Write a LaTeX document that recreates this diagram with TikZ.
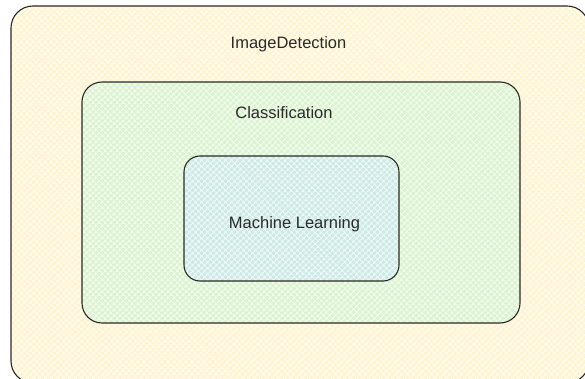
\documentclass[tikz,border=0pt]{standalone}
\usepackage{fontspec}
\setmainfont{Liberation Sans}
\usetikzlibrary{patterns.meta}

\definecolor{ink}{HTML}{2A2A2A}
\definecolor{yelfill}{HTML}{FFF4CF}
\definecolor{grnfill}{HTML}{DBF3CF}
\definecolor{bluefill}{HTML}{CCEBE4}

\tikzset{
  box/.style={draw=ink, line width=1.1pt, rounded corners=#1, inner sep=0pt},
  hatched/.style={preaction={fill=#1},
    pattern={Hatch[angle=45,distance=4pt,line width=1pt]},
    pattern color=white!80!#1},
  caption/.style={text=ink, font=\fontsize{16.5}{18}\selectfont, anchor=base, inner sep=0pt}
}

\begin{document}
\begin{tikzpicture}[x=1pt, y=-1pt]
  \useasboundingbox (0,0) rectangle (585,379);
  \clip (0,0) rectangle (585,379);
  \fill[white] (0,0) rectangle (585,379);

  % nested areas
  \node[box=22pt, hatched=yelfill, minimum width=578pt, minimum height=377pt] (detection) at (300,194.5) {};
  \node[box=20pt, hatched=grnfill, minimum width=438pt, minimum height=241pt] (classification) at (301,202.5) {};
  \node[box=16pt, hatched=bluefill, minimum width=215pt, minimum height=125pt] (ml) at (291.5,218.5) {};

  % captions
  \node[caption] (detectionlabel) at (288.5,49) {ImageDetection};
  \node[caption] (classlabel) at (284,119) {Classification};
  \node[caption] (mllabel) at (294.5,228) {Machine Learning};
\end{tikzpicture}
\end{document}
